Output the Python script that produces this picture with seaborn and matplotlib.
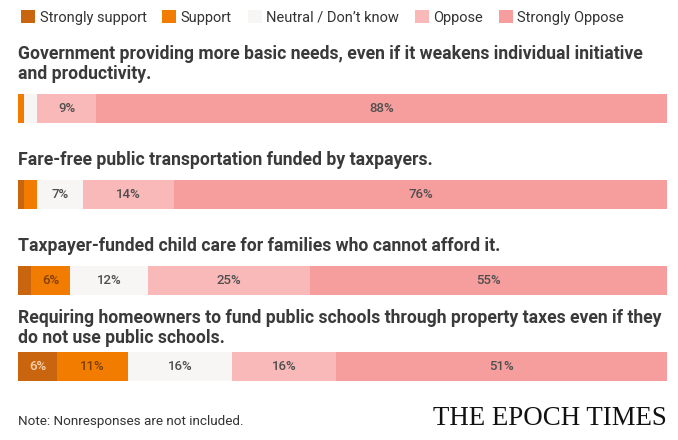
import numpy as np
import pandas as pd
import matplotlib
matplotlib.use("Agg")
import matplotlib.pyplot as plt
from matplotlib.patches import Patch
import seaborn as sns

# survey questions (one bar each)
questions = [
    "Government providing more basic needs, even if it weakens individual initiative\nand productivity.",
    "Fare-free public transportation funded by taxpayers.",
    "Taxpayer-funded child care for families who cannot afford it.",
    "Requiring homeowners to fund public schools through property taxes even if they\ndo not use public schools.",
]
categories = ["Strongly support", "Support", "Neutral / Don\u2019t know", "Oppose", "Strongly Oppose"]

# percent of respondents per answer
strongly_support = [0, 1, 2, 6]
support = [1, 2, 6, 11]
neutral = [2, 7, 12, 16]
oppose = [9, 14, 25, 16]
strongly_oppose = [88, 76, 55, 51]

colors = ["#c9650f", "#f27c00", "#f8f6f5", "#f8b9b8", "#f59e9d"]
label_colors = ["#f6d3b4", "#7d3f0c", "#4f4f4f", "#4f4f4f", "#4f4f4f"]

keys = [f"q{i}" for i in range(len(questions))]
vals = np.array([strongly_support, support, neutral, oppose, strongly_oppose])
cum = vals.cumsum(axis=0)
df = pd.DataFrame({"question": keys})
for name, row in zip(categories, cum):
    df[name] = row

sns.set_theme(style="white")
plt.rcParams["font.family"] = ["Roboto", "DejaVu Sans"]

fig = plt.figure(figsize=(6.78, 4.40), dpi=100)
fig.patch.set_facecolor("white")
ax = fig.add_axes([18 / 678, 0, 649 / 678, 1])

# stacked bars: draw the cumulative totals from the widest down
for i in reversed(range(len(categories))):
    sns.barplot(data=df, x=categories[i], y="question", orient="h",
                color=colors[i], saturation=1, width=0.34, linewidth=0, ax=ax)

# percent labels inside segments
for j in range(len(questions)):
    left = 0
    for i in range(len(categories)):
        v = vals[i, j]
        if v >= 6:
            ax.text(left + v / 2, j, f"{v}%", ha="center", va="center",
                    fontsize=9.5, fontweight="medium", color=label_colors[i])
        left += v

# question titles above each bar
title_offsets = [0.30, 0.30, 0.30, 0.23]
for j, q in enumerate(questions):
    ax.text(0, j - title_offsets[j], q, ha="left", va="bottom", fontsize=12.7,
            fontweight="bold", color="#3a3a3a", linespacing=1.12)

ax.set_xlim(0, 100)
ax.set_ylim(3.855, -1.262)
ax.axis("off")

handles = [Patch(facecolor=c, edgecolor="none") for c in colors]
fig.legend(handles, categories, loc="upper left", bbox_to_anchor=(14 / 678, 1 - 3 / 440),
           ncol=5, frameon=False, fontsize=10.5, handlelength=0.95, handleheight=1.0,
           handletextpad=0.3, columnspacing=1.1, borderpad=0, labelcolor="#333333")

fig.text(18 / 678, 1 - 421 / 440, "Note: Nonresponses are not included.",
         fontsize=9.7, color="#333333", va="center")
fig.text(667 / 678, 1 - 418 / 440, "THE EPOCH TIMES", family="Liberation Serif",
         fontsize=19.4, ha="right", va="center", color="#111111")

fig.savefig("out.png", dpi=100)
